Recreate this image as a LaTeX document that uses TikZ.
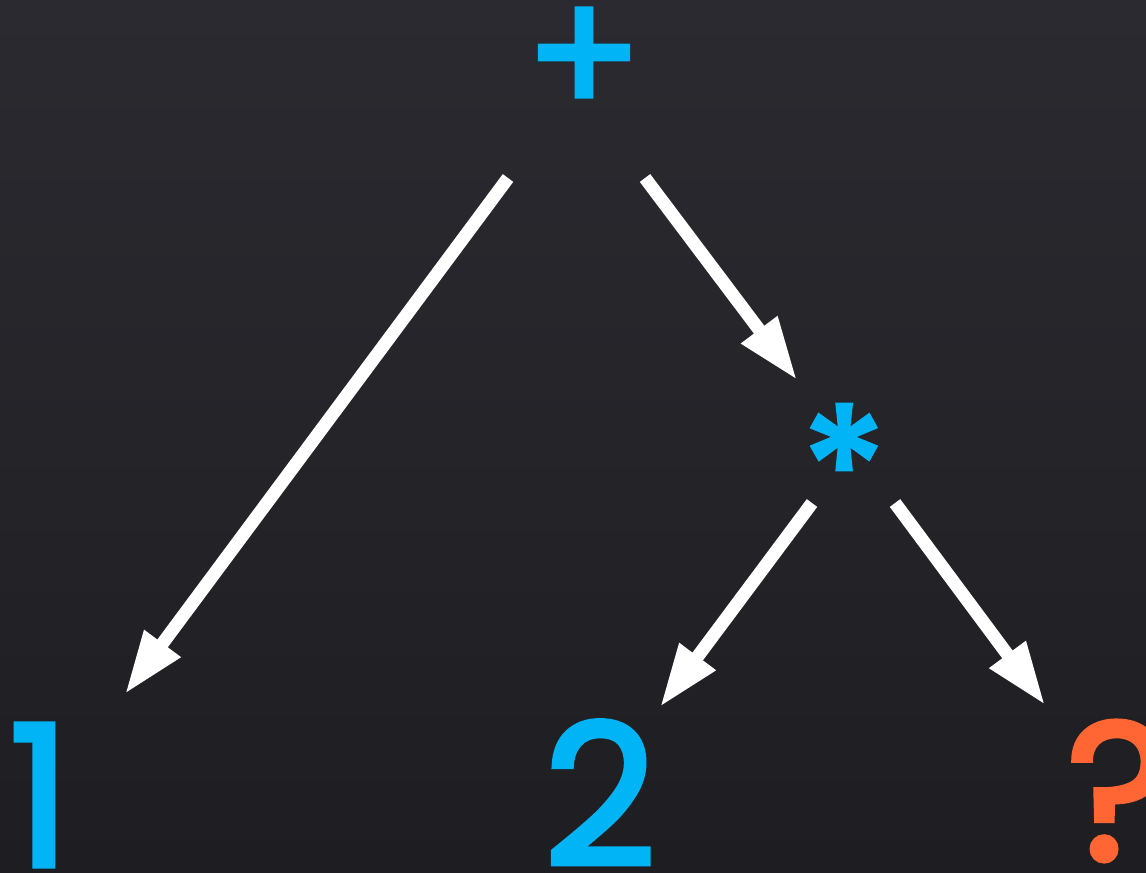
\documentclass[tikz,border=0pt]{standalone}
\usepackage{fontspec}
\setmainfont{Poppins}
\newfontfamily\symfont{Poppins}[FakeBold=2.5]
\usepackage{xcolor}
\usepackage{tikz}
\usetikzlibrary{arrows.meta, positioning}

\definecolor{slatetop}{RGB}{42,42,48}
\definecolor{slatebot}{RGB}{30,30,34}
\definecolor{opblue}{RGB}{0,180,245}
\definecolor{qorange}{RGB}{255,102,51}

\begin{document}
\begin{tikzpicture}[
  x=0.01cm, y=-0.01cm,
  sym/.style={inner sep=0pt, outer sep=0pt, font=\symfont\fontsize{56}{60}\selectfont},
  opnode/.style={sym, text=opblue, font=\symfont\fontsize{49}{54}\selectfont},
  numnode/.style={sym, text=opblue},
  holenode/.style={sym, text=qorange},
  arrow/.style={-{Triangle[length=0.63cm, width=0.42cm]}, line width=0.13cm, draw=white}
]
\useasboundingbox (0,0) rectangle (1146,872);
\shade[top color=slatetop, bottom color=slatebot] (0,0) rectangle (1146,872);

% the expression tree
\node[opnode] (plus) at (584,62) {+};
\node[opnode] (times) at (844,468) {*};
\node[numnode] (one) at (40,795) {1};
\node[numnode] (two) at (600,793) {2};
\node[holenode] (unknown) at (1118,791) {?};

% arrow ends
\coordinate (plus-l) at (508,178);
\coordinate (plus-r) at (645,178);
\coordinate (times-l) at (812,503);
\coordinate (times-r) at (895,503);
\coordinate (one-t) at (125,694);
\coordinate (times-t) at (797,380);
\coordinate (two-t) at (660,707);
\coordinate (unknown-t) at (1045,705);

\draw[arrow] (plus-l) -- (one-t);
\draw[arrow] (plus-r) -- (times-t);
\draw[arrow] (times-l) -- (two-t);
\draw[arrow] (times-r) -- (unknown-t);
\end{tikzpicture}
\end{document}
